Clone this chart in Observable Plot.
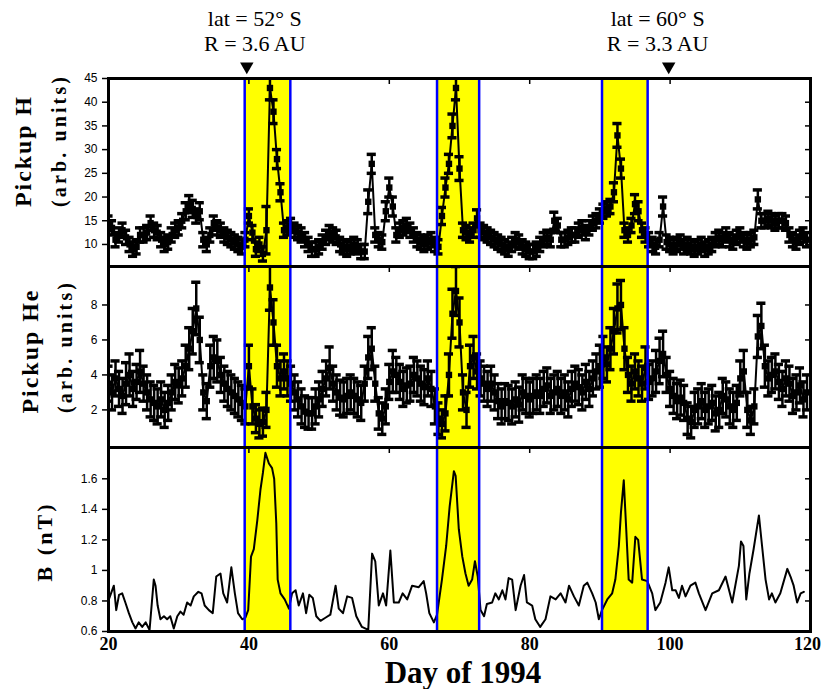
<!DOCTYPE html>
<html><head><meta charset="utf-8">
<script src="https://cdn.jsdelivr.net/npm/d3@7"></script>
<script src="https://cdn.jsdelivr.net/npm/@observablehq/plot@0.6"></script>
<style>
body{margin:0;background:#fff;}
#chart{position:relative;width:822px;height:689px;overflow:hidden;background:#fff;}
#chart > svg{position:absolute;left:0;}
</style></head><body><div id="chart"></div>
<script>
// ---------- data ----------
const pickupDays = [
20,20.5,21,21.5,22,22.5,23,23.5,24,24.5,
25,25.5,26,26.5,27,27.5,28,28.5,29,29.5,
30,30.5,31,31.5,32,32.5,33,33.5,34,34.5,
35,35.5,36,36.5,37,37.5,38,38.5,39,39.5,
40,40.5,41,41.5,42,42.5,43,43.5,44,44.5,
45,45.5,46,46.5,47,47.5,48,48.5,49,49.5,
50,50.5,51,51.5,52,52.5,53,53.5,54,54.5,
55,55.5,56,56.5,57,57.5,58,58.5,59,59.5,
60,60.5,61,61.5,62,62.5,63,63.5,64,64.5,
65,65.5,66,66.5,67,67.5,68,68.5,69,69.5,
70,70.5,71,71.5,72,72.5,73,73.5,74,74.5,
75,75.5,76,76.5,77,77.5,78,78.5,79,79.5,
80,80.5,81,81.5,82,82.5,83,83.5,84,84.5,
85,85.5,86,86.5,87,87.5,88,88.5,89,89.5,
90,90.5,91,91.5,92,92.5,93,93.5,94,94.5,
95,95.5,96,96.5,97,97.5,98,98.5,99,99.5,
100,100.5,101,101.5,102,102.5,103,103.5,104,104.5,
105,105.5,106,106.5,107,107.5,108,108.5,109,109.5,
110,110.5,111,111.5,112,112.5,113,113.5,114,114.5,
115,115.5,116,116.5,117,117.5,118,118.5,119,119.5];

const hValues = [
14.5,13.5,11,12,13,11.5,10,9,9.5,12,
12,12.5,14.5,13,12.5,11,10,10.5,12,13,
13.5,15,17,18.5,17.5,16,17,11,10,12,
14.5,13.5,13,12,11.5,11,10.5,10,9.5,11,
16,12.5,9,10,8,13,43,38,28,21,
13,13.5,14,13,12.5,12,11,10,9,9,
9.5,10.5,11.5,12.5,12,11.5,10,9.5,9,9.5,
10,9.5,8.5,8.5,19,27,12,11,10.5,17,
22,18,12,13,13.5,14,13,12,11,10.5,
10,10.5,11,10,9.5,16,22,27,35,43,
26,13,12.5,12,13,15.5,13,12.5,12,11.5,
11,10.5,10,9.5,9,10,11,10.5,9.5,9,
8.5,8.5,9,10,11,11.5,11,15,14,11,
11,11.5,12,12,13,13.5,12.5,13.5,14.5,15,
16,17,17.5,18,21,33,26,13,12,14,
18.5,17,13,12,11,10,9.5,11,18,10.5,
10,9.5,10,10.5,9.5,10,9.5,9,9.5,10,
9,9.5,10,11,11.5,11,12,11,10.5,11.5,
12,11,10.5,11,11.5,19.5,15,15,15.5,15,
14.5,15,15,14.5,12,11,10.5,11.5,12,11];

const hErrors = [
1.5,1.5,1.5,1.5,1.5,1.5,1.5,1.5,1.5,1.5,
1.5,1.5,1.5,1.5,1.5,1.5,1.5,1.5,1.5,1.5,
1.5,1.5,1.8,1.8,1.8,1.5,1.8,1.5,1.5,1.5,
1.5,1.5,1.5,1.5,1.5,1.5,1.5,1.5,1.5,1.5,
1.5,1.5,1.5,1.5,1.5,5,2.5,2.5,2,1.8,
1.5,1.5,1.5,1.5,1.5,1.5,1.5,1.5,1.5,1.5,
1.5,1.5,1.5,1.5,1.5,1.5,1.5,1.5,1.5,1.5,
1.5,1.5,1.5,1.5,2.5,2,1.5,1.5,1.5,2,
2,2,1.5,1.5,1.5,1.5,1.5,1.5,1.5,1.5,
1.5,1.5,1.5,1.5,1.5,1.8,2,2,2.5,2.5,
2.5,1.5,1.5,1.5,1.5,1.8,1.5,1.5,1.5,1.5,
1.5,1.5,1.5,1.5,1.5,1.5,1.5,1.5,1.5,1.5,
1.5,1.5,1.5,1.5,1.5,1.5,1.5,1.8,1.5,1.5,
1.5,1.5,1.5,1.5,1.5,1.5,1.5,1.5,1.5,1.5,
1.5,1.5,1.5,1.5,2,2.5,2,1.5,1.5,1.5,
2,2,1.5,1.5,1.5,1.5,1.5,1.5,2,1.5,
1.5,1.5,1.5,1.5,1.5,1.5,1.5,1.5,1.5,1.5,
1.5,1.5,1.5,1.5,1.5,1.5,1.5,1.5,1.5,1.5,
1.5,1.5,1.5,1.5,1.5,2,1.5,1.5,1.5,1.5,
1.5,1.5,1.5,1.5,1.5,1.5,1.5,1.5,1.5,1.5];

const heValues = [
3.5,3,3.8,3.2,2.8,3.5,4,3.2,3.6,4.2,
3.5,3,2.6,2.4,2.2,2.6,2,2.4,3,3.6,
3.4,3.8,4.5,5.5,6.5,7.8,6,3,2.5,4.5,
5,4.8,4,3.5,3.2,3,2.8,2.6,2.4,2.2,
4.5,2.2,1.5,1.2,1.3,2,9,7,4.5,3.8,
4.2,3.8,3.5,3,2.6,2.2,1.9,1.8,1.8,2.2,
2.6,3.2,3.8,4.4,3.5,3,2.7,2.6,2.8,3,
2.8,2.6,2.4,3.5,5,5.5,3.5,1.8,1.5,2.2,
3.6,4.2,4,3.6,3.2,3.4,3.5,4,3.8,3.5,
3.3,3.8,3.2,2.2,1.5,1.2,1.8,4,7.5,8.8,
7,3,2,4.5,5,4.2,3.8,3.5,3.2,3.5,
3,2.5,2.2,2.5,2.4,2.2,2.6,2.3,3,2.8,
2.6,2.8,3,2.8,3.2,3.4,2.8,3,3.2,2.8,
3,2.6,3.2,3.5,3.3,3,3.6,3.2,3.8,4.2,
4.5,5,4.6,5.5,6.5,7.8,8,5.5,4,3.5,
4.2,3.8,3.5,4.4,3.6,3.8,4.2,4.8,5.2,4,
3.2,2.8,2.5,2.7,2.4,1.5,1.3,2,2.2,2.5,
2,2.2,2.4,1.8,2,2.8,2.6,2.2,2,2.4,
3.8,4.2,2,1.4,2.2,6.2,6.8,4.5,3.8,4,
4.2,3.6,3.2,3.8,3.5,2.8,3,3.4,2.6,3];

const heErrors = [
1,1,1,1,1,1.2,1.2,1,1,1.2,
1,1,1,1,1,1,1,1,1,1,
1,1,1.2,1.2,1.3,1.5,1.3,1,1,1.2,
1.2,1.2,1,1,1,1,1,1,1,1,
1.2,1,0.8,0.8,0.8,1,1.3,1.3,1.2,1,
1,1,1,1,1,1,0.9,0.9,0.9,1,
1,1,1,1.2,1,1,1,1,1,1,
1,1,1,1,1.2,1.2,1,0.9,0.9,1,
1,1.2,1,1,1,1,1,1,1,1,
1,1,1,1,0.9,0.8,1,1.2,1.4,1.4,
1.4,1,1,1.2,1.2,1,1,1,1,1,
1,1,1,1,1,1,1,1,1,1,
1,1,1,1,1,1,1,1,1,1,
1,1,1,1,1,1,1,1,1,1,
1.2,1.2,1,1.2,1.3,1.4,1.4,1.2,1,1,
1,1,1,1.2,1,1,1.2,1.3,1.3,1,
1,1,1,1,1,0.9,0.9,1,1,1,
1,1,1,1,1,1,1,1,1,1,
1,1.2,1,0.8,1,1.2,1.3,1.2,1,1,
1,1,1,1,1,1,1,1,1,1];

const bDays = [
20.05,20.76,21.1,21.5,21.95,22.4,22.9,23.4,23.85,24.3,
24.8,25.3,25.85,26.45,26.7,27.0,27.4,27.9,28.35,28.8,
29.3,29.8,30.25,30.7,31.2,31.7,32.15,32.8,33.25,33.7,
34.3,34.85,35.35,35.95,36.35,36.9,37.5,38.0,38.45,39.05,
39.5,39.9,40.3,40.7,41.2,41.65,42.0,42.35,42.85,43.3,
43.6,43.9,44.1,44.5,45.1,45.7,46.15,46.65,47.1,47.7,
48.15,48.6,49.1,49.6,50.2,50.9,51.6,52.35,52.8,53.4,
54.0,54.7,55.3,56.1,57.0,57.55,58.0,58.5,59.1,59.55,
60.15,60.65,61.35,61.9,62.55,63.25,64.2,64.9,65.25,65.7,
66.35,66.8,67.5,68.1,68.6,69.2,69.45,69.9,70.4,70.85,
71.3,71.8,72.2,72.6,73.0,73.5,73.9,74.65,75.1,75.6,
76.1,76.55,77.0,77.5,78.0,78.7,79.2,79.6,80.35,80.8,
81.5,82.25,82.95,83.7,84.4,85.1,85.6,86.3,87.0,87.7,
88.2,88.9,89.4,89.85,90.3,91.05,91.75,92.2,92.7,93.0,
93.4,93.75,94.1,94.6,95.05,95.45,96.0,96.75,97.45,97.9,
98.6,99.35,99.8,100.3,100.8,101.25,101.7,102.2,102.9,103.6,
104.1,105.05,106.0,106.95,107.9,108.85,109.8,110.1,110.45,110.85,
111.3,111.9,112.65,113.1,113.6,114.1,114.5,115.0,115.7,116.7,
117.15,117.6,118.1,118.6,119.05];

const bValues = [
0.81,0.90,0.74,0.84,0.85,0.79,0.72,0.66,0.62,0.66,
0.63,0.66,0.61,0.94,0.90,0.77,0.68,0.70,0.68,0.70,
0.62,0.70,0.73,0.71,0.79,0.77,0.83,0.86,0.85,0.77,
0.74,0.72,0.96,0.98,0.85,0.79,1.02,0.85,0.72,0.68,
0.69,0.74,1.09,1.14,1.33,1.53,1.64,1.77,1.70,1.67,
1.60,1.31,0.94,0.85,0.81,0.75,0.85,0.87,0.77,0.85,
0.72,0.84,0.82,0.70,0.67,0.69,0.71,0.90,0.75,0.72,
0.83,0.82,0.70,0.63,0.61,1.11,1.06,0.77,0.85,0.77,
1.13,0.79,0.79,0.85,0.81,0.90,0.89,0.93,0.85,0.72,
0.66,0.71,0.94,1.16,1.42,1.65,1.62,1.27,1.09,0.98,
0.90,0.94,1.06,0.96,0.74,0.70,0.78,0.79,0.85,0.81,
0.87,0.81,0.95,0.94,0.74,0.90,0.97,0.79,0.77,0.68,
0.63,0.68,0.83,0.81,0.85,0.79,0.90,0.83,0.77,0.90,
0.92,0.85,0.79,0.68,0.74,0.81,0.85,0.94,1.16,1.38,
1.59,1.27,0.94,0.92,1.22,1.20,0.94,0.93,0.85,0.74,
0.79,0.92,1.02,0.87,0.87,0.82,0.90,0.83,0.90,0.92,
0.85,0.74,0.85,0.87,0.96,0.79,1.03,1.19,1.16,0.81,
0.98,1.14,1.36,1.16,0.94,0.81,0.85,0.79,0.85,1.01,
0.96,0.90,0.79,0.85,0.86];

const bandStart = [39.4, 66.8, 90.3];
const bandEnd = [45.9, 72.8, 96.8];
const markerDays = [39.7, 99.8];
const markerLabels = ["lat = 52° S\nR = 3.6 AU", "lat = 60° S\nR = 3.3 AU"];
const xTicks = [20, 40, 60, 80, 100, 120];
const hTicks = [10, 15, 20, 25, 30, 35, 40, 45];
const heTicks = [2, 4, 6, 8];
const bTicks = [0.6, 0.8, 1, 1.2, 1.4, 1.6];
const yTitles = [["Pickup H", "(arb. units)"], ["Pickup He", "(arb. units)"], ["B (nT)"]];
const xTitle = "Day of 1994";

// ---------- drawing ----------
const SERIF = "'Liberation Serif','Times New Roman',serif";
const SANS = "'Liberation Sans',Arial,Helvetica,sans-serif";
const CAP = 0.65; // half cap width in days

function errorMarks(values, errors) {
  const v = (d, i) => values[i];
  const lo = (d, i) => values[i] - errors[i];
  const hi = (d, i) => values[i] + errors[i];
  return [
    Plot.line(pickupDays, {x: d => d, y: v, stroke: "black", strokeWidth: 2, clip: true}),
    Plot.ruleX(pickupDays, {x: d => d, y1: lo, y2: hi, stroke: "black", strokeWidth: 2.5, clip: true}),
    Plot.ruleY(pickupDays, {y: hi, x1: d => d - CAP, x2: d => d + CAP, stroke: "black", strokeWidth: 3.5, clip: true}),
    Plot.ruleY(pickupDays, {y: lo, x1: d => d - CAP, x2: d => d + CAP, stroke: "black", strokeWidth: 3.5, clip: true}),
    Plot.dot(pickupDays, {x: d => d, y: v, symbol: "square", r: 3.6, fill: "black", stroke: null, clip: true})
  ];
}

function panel({height, marginTop, marginBottom, yDomain, yTicks, marks, bottomAxis}) {
  return Plot.plot({
    width: 822, height, marginLeft: 108, marginRight: 12, marginTop, marginBottom,
    style: {background: "transparent", overflow: "visible", color: "black"},
    x: {domain: [20, 120]},
    y: {domain: yDomain},
    marks: [
      Plot.rect(bandStart, {x1: bandStart, x2: bandEnd, fill: "#ffff00"}),
      ...marks,
      Plot.ruleX(bandStart.concat(bandEnd), {stroke: "#0000ff", strokeWidth: 2.5}),
      Plot.axisY({ticks: yTicks, anchor: "left", tickSize: 6, tickPadding: 5, tickFormat: d => String(d), fontSize: 12, fontFamily: SANS, label: null, strokeWidth: 1.5}),
      Plot.axisY({ticks: yTicks, anchor: "right", tickSize: -6, tickFormat: () => "", label: null, strokeWidth: 1.5}),
      Plot.axisX({ticks: xTicks, anchor: "top", tickSize: -5, tickFormat: () => "", label: null, strokeWidth: 1.5}),
      ...(bottomAxis ? [
        Plot.axisX({ticks: xTicks.slice(0, -1), anchor: "bottom", tickSize: 0, tickPadding: 6, tickFormat: d => String(d), fontSize: 18, fontWeight: "bold", fontFamily: SERIF, label: null}),
        Plot.axisX({ticks: xTicks.slice(-1), anchor: "bottom", tickSize: 0, tickPadding: 6, tickFormat: d => String(d), fontSize: 18, fontWeight: "bold", fontFamily: SERIF, label: null, dx: -3})
      ] : []),
      Plot.frame({stroke: "black", strokeWidth: 3})
    ]
  });
}

const annotationMarks = [
  Plot.dot(markerDays, {x: d => d, frameAnchor: "top", dy: -12, symbol: "triangle", rotate: 180, r: 5, fill: "black", stroke: null}),
  Plot.text([markerLabels[0]], {x: () => markerDays[0], text: d => d, frameAnchor: "top", dy: -28, dx: 8, lineAnchor: "bottom", lineHeight: 1.1, fontSize: 22, fontFamily: SERIF, fill: "black"}),
  Plot.text([markerLabels[1]], {x: () => markerDays[1], text: d => d, frameAnchor: "top", dy: -28, dx: -11, lineAnchor: "bottom", lineHeight: 1.1, fontSize: 22, fontFamily: SERIF, fill: "black"})
];

const chart = document.getElementById("chart");

const p1 = panel({height: 270, marginTop: 78, marginBottom: 4, yDomain: [5.35, 45], yTicks: hTicks,
  marks: [...errorMarks(hValues, hErrors), ...annotationMarks]});
p1.style.top = "0px";

const p2 = panel({height: 190, marginTop: 4, marginBottom: 5, yDomain: [-0.15, 10.2], yTicks: heTicks,
  marks: errorMarks(heValues, heErrors)});
p2.style.top = "262px";

const p3 = panel({height: 246, marginTop: 4, marginBottom: 58, yDomain: [0.6, 1.805], yTicks: bTicks, bottomAxis: true,
  marks: [Plot.line(bDays, {x: d => d, y: (d, i) => bValues[i], stroke: "black", strokeWidth: 2, clip: true})]});
p3.style.top = "443px";

chart.appendChild(p3);
chart.appendChild(p2);
chart.appendChild(p1);

// titles overlay
const overlay = d3.select(chart).append("svg")
  .attr("width", 822).attr("height", 689)
  .style("top", "0px").style("pointer-events", "none");

const titleSpecs = [
  {text: yTitles[0][0], x: 31, y: 152, size: 24, len: 110},
  {text: yTitles[0][1], x: 66, y: 142, size: 20, len: 130},
  {text: yTitles[1][0], x: 38, y: 352, size: 24, len: 123},
  {text: yTitles[1][1], x: 72, y: 348, size: 20, len: 130},
  {text: yTitles[2][0], x: 52, y: 543, size: 22, len: 77}
];
for (const s of titleSpecs) {
  overlay.append("text")
    .attr("transform", `translate(${s.x},${s.y}) rotate(-90)`)
    .attr("text-anchor", "middle")
    .attr("font-family", SERIF).attr("font-weight", "bold").attr("font-size", s.size)
    .attr("textLength", s.len).attr("lengthAdjust", "spacing")
    .attr("fill", "black")
    .text(s.text);
}
overlay.append("text")
  .attr("x", 463).attr("y", 683)
  .attr("text-anchor", "middle")
  .attr("font-family", SERIF).attr("font-weight", "bold").attr("font-size", 31)
  .attr("fill", "black")
  .text(xTitle);
</script>
</body></html>
